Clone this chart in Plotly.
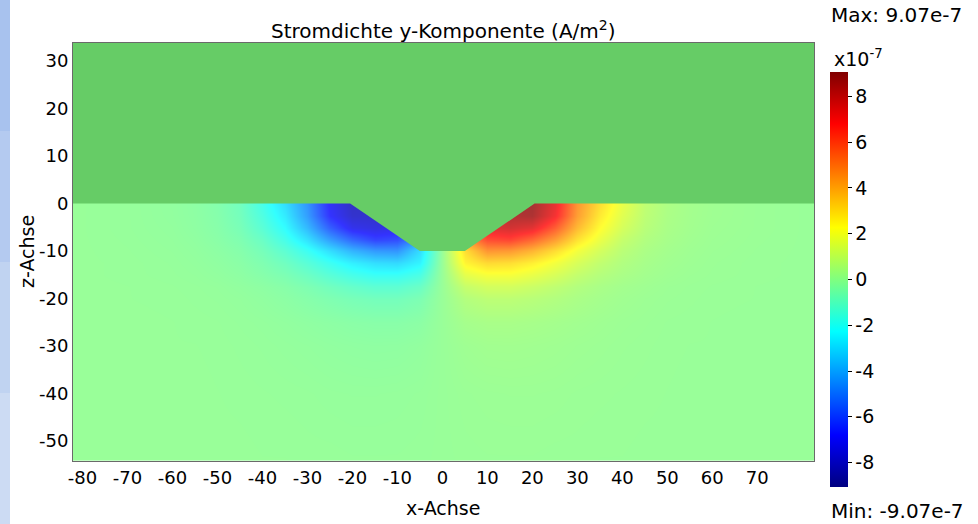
import plotly.graph_objects as go

# ---- data (current density y-component, in units of 1e-7 A/m^2) ----
x_coords = [-82, -70, -60, -55, -50, -45, -40, -35, -30, -25, -20, -15, -10, -5,
            0, 5, 10, 15, 20, 25, 30, 35, 40, 45, 50, 55, 60, 70, 82]
z_coords = [-54, -40, -30, -25, -20, -17.5, -15, -12.5, -10, -7.5, -5, -2.5, 0]

jy_z_m54 = [0.0, 0.0, 0.0, 0.0, 0.0, 0.0, -0.01, -0.01, -0.02, -0.02, -0.03, -0.03, -0.03, -0.02,
            0.0, 0.02, 0.03, 0.03, 0.03, 0.02, 0.02, 0.01, 0.01, 0.0, 0.0, 0.0, 0.0, 0.0, 0.0]
jy_z_m40 = [0.0, 0.0, 0.0, 0.0, -0.01, -0.02, -0.03, -0.04, -0.05, -0.07, -0.08, -0.08, -0.07, -0.05,
            0.0, 0.05, 0.07, 0.08, 0.08, 0.07, 0.05, 0.04, 0.03, 0.02, 0.01, 0.0, 0.0, 0.0, 0.0]
jy_z_m30 = [0.0, 0.0, -0.01, -0.01, -0.02, -0.04, -0.06, -0.09, -0.12, -0.16, -0.19, -0.21, -0.2, -0.14,
            0.0, 0.14, 0.2, 0.21, 0.19, 0.16, 0.12, 0.09, 0.06, 0.04, 0.02, 0.01, 0.01, 0.0, 0.0]
jy_z_m25 = [0.0, 0.0, -0.01, -0.02, -0.03, -0.06, -0.09, -0.14, -0.2, -0.26, -0.32, -0.36, -0.36, -0.28,
            0.0, 0.28, 0.36, 0.36, 0.32, 0.26, 0.2, 0.14, 0.09, 0.06, 0.03, 0.02, 0.01, 0.0, 0.0]
jy_z_m20 = [0.0, -0.01, -0.02, -0.04, -0.06, -0.1, -0.17, -0.27, -0.4, -0.56, -0.7, -0.8, -0.8, -0.6,
            0.0, 0.6, 0.8, 0.8, 0.7, 0.56, 0.4, 0.27, 0.17, 0.1, 0.06, 0.04, 0.02, 0.01, 0.0]
jy_z_m17_5 = [0.0, -0.01, -0.03, -0.05, -0.08, -0.15, -0.24, -0.38, -0.58, -0.85, -1.1, -1.3, -1.3, -1.0,
              0.0, 1.0, 1.3, 1.3, 1.1, 0.85, 0.58, 0.38, 0.24, 0.15, 0.08, 0.05, 0.03, 0.01, 0.0]
jy_z_m15 = [0.0, -0.02, -0.05, -0.08, -0.14, -0.24, -0.4, -0.62, -0.95, -1.4, -1.8, -2.1, -2.1, -1.7,
            0.0, 1.7, 2.1, 2.1, 1.8, 1.4, 0.95, 0.62, 0.4, 0.24, 0.14, 0.08, 0.05, 0.02, 0.0]
jy_z_m12_5 = [0.0, -0.02, -0.06, -0.11, -0.19, -0.32, -0.55, -0.9, -1.4, -2.0, -2.6, -3.0, -3.1, -2.5,
              0.0, 2.5, 3.1, 3.0, 2.6, 2.0, 1.4, 0.9, 0.55, 0.32, 0.19, 0.11, 0.06, 0.02, 0.0]
jy_z_m10 = [0.0, -0.03, -0.08, -0.14, -0.25, -0.42, -0.75, -1.3, -2.0, -3.0, -3.9, -4.5, -4.6, -3.0,
            0.0, 3.0, 4.6, 4.5, 3.9, 3.0, 2.0, 1.3, 0.75, 0.42, 0.25, 0.14, 0.08, 0.03, 0.0]
jy_z_m7_5 = [0.0, -0.04, -0.1, -0.18, -0.32, -0.55, -1.0, -1.8, -2.9, -4.4, -5.6, -6.4, -6.2, -4.5,
             0.0, 4.5, 6.2, 6.4, 5.6, 4.4, 2.9, 1.8, 1.0, 0.55, 0.32, 0.18, 0.1, 0.04, 0.0]
jy_z_m5 = [0.0, -0.05, -0.12, -0.22, -0.38, -0.7, -1.35, -2.3, -3.8, -5.8, -7.2, -7.5, -7.3, -4.0,
           0.0, 4.0, 7.5, 7.8, 7.4, 5.8, 3.8, 2.3, 1.35, 0.7, 0.38, 0.22, 0.12, 0.05, 0.0]
jy_z_m2_5 = [0.0, -0.05, -0.14, -0.24, -0.42, -0.8, -1.6, -2.7, -4.4, -6.8, -7.9, -7.9, -7.3, -4.5,
             0.0, 4.5, 7.5, 8.5, 8.6, 7.0, 4.4, 2.7, 1.6, 0.8, 0.42, 0.24, 0.14, 0.05, 0.0]
jy_z_0 = [0.0, -0.05, -0.15, -0.25, -0.45, -0.85, -1.8, -3.0, -4.6, -7.0, -8.1, -8.1, -7.6, -5.0,
          0.0, 5.0, 8.0, 8.8, 8.8, 7.3, 4.6, 3.0, 1.8, 0.85, 0.45, 0.25, 0.15, 0.05, 0.0]

jy_min = -9.07
jy_max = 9.07

# geometry of the upper (non-conducting) region with the groove
domain_x = [-90, -20.5, -5, 5, 20.5, 90, 90, -90]
domain_z = [0, 0, -10, -10, 0, 0, 40, 40]

x_ticks = [-80, -70, -60, -50, -40, -30, -20, -10, 0, 10, 20, 30, 40, 50, 60, 70]
z_ticks = [-50, -40, -30, -20, -10, 0, 10, 20, 30]
cbar_ticks = [-8, -6, -4, -2, 0, 2, 4, 6, 8]

jy_grid = [jy_z_m54, jy_z_m40, jy_z_m30, jy_z_m25, jy_z_m20, jy_z_m17_5, jy_z_m15,
           jy_z_m12_5, jy_z_m10, jy_z_m7_5, jy_z_m5, jy_z_m2_5, jy_z_0]

# ---- styling ----
FONT = "DejaVu Sans"
jet = [[0.0, "#000080"], [0.125, "#0000FF"], [0.375, "#00FFFF"],
       [0.625, "#FFFF00"], [0.875, "#FF0000"], [1.0, "#800000"]]
jet_lit = [[0.0, "#333399"], [0.125, "#3333FF"], [0.375, "#33FFFF"],
           [0.625, "#FFFF33"], [0.875, "#FF3333"], [1.0, "#993333"]]

W, H = 978, 524
ML, MR, MT, MB = 73, 164, 43, 63
PW, PH = W - ML - MR, H - MT - MB


def px_x(px):
    return (px - ML) / PW


def px_y(py):
    return (H - MB - py) / PH


fig = go.Figure()

fig.add_trace(go.Heatmap(
    x=x_coords, y=z_coords, z=jy_grid,
    zmin=jy_min, zmax=jy_max, colorscale=jet_lit, zsmooth="best",
    showscale=False, hoverinfo="skip"))

fig.add_trace(go.Scatter(
    x=domain_x, y=domain_z, mode="lines", fill="toself",
    fillcolor="#66CC66", line=dict(width=0, color="#66CC66"),
    hoverinfo="skip", showlegend=False))

fig.add_trace(go.Scatter(
    x=[None], y=[None], mode="markers", showlegend=False, hoverinfo="skip",
    marker=dict(color=[0], cmin=jy_min, cmax=jy_max, colorscale=jet,
                showscale=True,
                colorbar=dict(
                    thickness=18, thicknessmode="pixels",
                    len=(487 - 72) / PH, lenmode="fraction",
                    x=px_x(830), xanchor="left", xpad=0,
                    y=px_y(487), yanchor="bottom", ypad=0,
                    outlinewidth=0, ticks="outside", ticklen=4,
                    tickcolor="#000000", tickwidth=1,
                    tickvals=cbar_ticks, ticktext=[str(t) for t in cbar_ticks],
                    tickfont=dict(family=FONT, size=19, color="#000000")))))

fig.update_xaxes(range=[-82.1, 82.6], tickvals=x_ticks, ticktext=[str(t) for t in x_ticks],
                 showgrid=False, zeroline=False,
                 showline=True, mirror=True, linecolor="#6A6A6A", linewidth=1,
                 ticks="", tickfont=dict(family=FONT, size=18, color="#000000"))
fig.update_yaxes(range=[-54.2, 33.8], tickvals=z_ticks, ticktext=[str(t) for t in z_ticks],
                 showgrid=False, zeroline=False,
                 showline=True, mirror=True, linecolor="#6A6A6A", linewidth=1,
                 ticks="", tickfont=dict(family=FONT, size=18, color="#000000"))

annotations = [
    dict(text="Stromdichte y-Komponente (A/m<sup>2</sup>)", x=px_x(443), y=px_y(30),
         xanchor="center", yanchor="middle", font=dict(size=20)),
    dict(text="Max: 9.07e-7", x=px_x(829), y=px_y(15), xanchor="left", yanchor="middle",
         font=dict(size=20)),
    dict(text="Min: -9.07e-7", x=px_x(829), y=px_y(511), xanchor="left", yanchor="middle",
         font=dict(size=20)),
    dict(text="x10<sup>-7</sup>", x=px_x(832), y=px_y(58), xanchor="left", yanchor="middle",
         font=dict(size=19)),
    dict(text="x-Achse", x=px_x(443), y=px_y(508), xanchor="center", yanchor="middle",
         font=dict(size=19)),
    dict(text="z-Achse", x=px_x(27), y=px_y(252), xanchor="center", yanchor="middle",
         textangle=-90, font=dict(size=19)),
]
for a in annotations:
    a.update(xref="paper", yref="paper", showarrow=False)
    a["font"].update(family=FONT, color="#000000")

strip_colors = ["#A8C2EE", "#B4CAF0", "#C0D3F1", "#CCDBF3"]
shapes = []
for i, c in enumerate(strip_colors):
    y0 = H * i / len(strip_colors)
    y1 = H * (i + 1) / len(strip_colors)
    shapes.append(dict(type="rect", xref="paper", yref="paper",
                       x0=px_x(0), x1=px_x(10), y0=px_y(y1), y1=px_y(y0),
                       fillcolor=c, line=dict(width=0), layer="below"))

fig.update_layout(
    width=W, height=H, margin=dict(l=ML, r=MR, t=MT, b=MB),
    paper_bgcolor="#FFFFFF", plot_bgcolor="#FFFFFF",
    annotations=annotations, shapes=shapes, showlegend=False,
    font=dict(family=FONT, color="#000000"))

fig.write_html("out.html", config={"displayModeBar": False},
               post_script="document.body.style.margin='0px';"
                           "document.body.style.overflow='hidden';")
